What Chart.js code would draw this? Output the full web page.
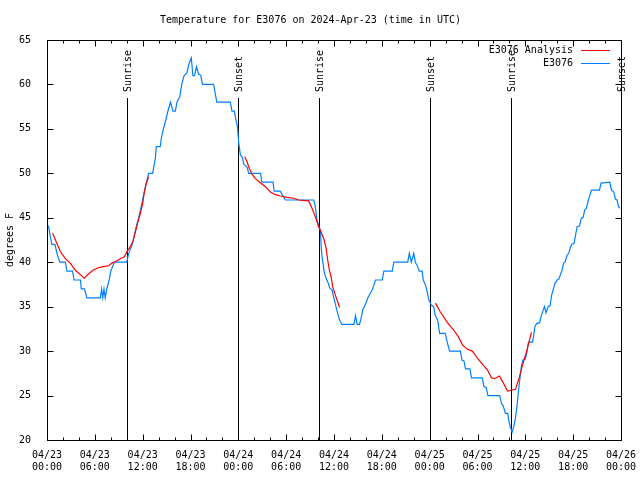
<!DOCTYPE html>
<html>
<head>
<title>Temperature for E3076</title>
<script src="https://cdn.jsdelivr.net/npm/chart.js@4.4.0/dist/chart.umd.min.js"></script>
<style>
    body { margin: 0; background: #ffffff; }
    canvas { display: block; }
</style>
</head>
<body>
<canvas id="tempChart" width="640" height="480"></canvas>
<script>
// hours since 04/23 00:00 UTC
var obsHours = [0.05, 0.2, 0.4, 0.6, 1.0, 1.25, 1.6, 2.3, 2.5, 3.2, 3.4, 4.2, 4.3, 4.7, 5.0, 6.7, 6.85, 7.0, 7.15, 7.3,
    7.5, 7.8, 8.0, 8.45, 10.0, 10.25, 10.7, 10.95, 11.2, 11.5, 11.9, 12.1, 12.45, 12.75, 13.25, 13.45, 13.6, 13.7, 14.2, 14.35,
    14.6, 14.9, 15.25, 15.5, 15.8, 16.1, 16.3, 16.65, 16.9, 17.2, 17.55, 17.8, 18.1, 18.3, 18.5, 18.75, 19.0, 19.3, 19.5, 20.9,
    21.1, 21.3, 23.0, 23.2, 23.5, 23.7, 23.9, 24.05, 24.25, 24.5, 24.7, 25.1, 25.3, 26.8, 26.95, 28.35, 28.5, 29.25, 29.5, 29.9,
    33.45, 33.65, 33.85, 34.1, 34.3, 34.4, 34.5, 34.65, 34.8, 35.1, 35.3, 35.45, 35.75, 35.95, 36.2, 36.5, 36.7, 37.0, 38.5, 38.7,
    38.9, 39.2, 39.4, 39.6, 39.8, 40.1, 40.25, 40.6, 40.8, 41.0, 41.2, 42.05, 42.25, 43.3, 43.5, 45.25, 45.45, 45.7, 46.0, 46.2,
    46.4, 46.7, 47.05, 47.2, 47.5, 47.7, 47.9, 48.2, 48.5, 48.7, 49.0, 49.25, 49.95, 50.2, 50.5, 51.85, 52.05, 52.3, 52.5, 53.05,
    53.25, 54.6, 54.8, 55.1, 55.3, 56.8, 57.0, 57.2, 57.5, 57.8, 57.9, 58.1, 58.35, 58.55, 58.75, 58.95, 59.1, 59.3, 59.5, 59.7,
    60.0, 60.2, 60.4, 60.9, 61.05, 61.2, 61.4, 61.8, 62.0, 62.4, 62.6, 62.85, 63.1, 63.3, 63.5, 63.7, 64.0, 64.2, 64.6, 64.8,
    65.0, 65.25, 65.45, 65.65, 65.85, 66.1, 66.3, 66.5, 66.8, 67.0, 67.25, 67.45, 67.65, 67.85, 68.05, 68.3, 69.3, 69.5, 70.6, 70.8,
    71.1, 71.3, 71.5, 71.7, 71.85];
var obsTemp = [44.2, 44, 43, 42, 42, 41, 40, 40, 39, 39, 38, 38, 37, 37, 36, 36, 37, 36, 37, 36,
    37, 38, 39, 40, 40, 41, 42, 43, 44, 45, 46.6, 47.5, 48.9, 50, 50, 51, 51.7, 53, 53, 54,
    55, 56, 57.3, 58, 57, 57, 58, 58.6, 60, 61, 61.3, 62.3, 63, 61, 61, 62, 61.2, 61, 60, 60,
    59, 58, 58, 57, 57, 56, 55.2, 53.4, 52.1, 51.8, 51, 50.7, 50, 50, 49, 49, 48, 48, 47.6, 47,
    47, 46.3, 44.8, 44, 43.6, 41.6, 40.6, 39.7, 38.75, 38, 37.6, 37.1, 36.9, 36.1, 35.2, 34.1, 33.5, 33, 33, 34,
    33, 33, 33.7, 34.6, 35, 35.6, 36, 36.6, 36.9, 37.4, 38, 38, 39, 39, 40, 40, 41, 40, 41, 40,
    39.7, 39, 39, 38, 37.4, 36.6, 35.75, 35.2, 35, 34, 33.5, 32, 32, 31, 30, 30, 29, 28.9, 28, 28,
    27, 27, 26, 25.9, 25, 25, 24.1, 23.9, 23, 23, 22.25, 21.5, 20.9, 21.5, 22.4, 23.75, 25.2, 26.75, 28.25, 29,
    29.1, 29.9, 31, 31, 31.8, 32.75, 33.1, 33.2, 34, 35, 34.3, 35, 35.1, 36.3, 36.9, 37.6, 38, 38.1, 39.1, 39.9,
    40.05, 40.8, 41, 41.7, 42.05, 42.1, 43.05, 44, 44.1, 44.9, 45.05, 45.9, 46.05, 46.8, 47.4, 48.1, 48.1, 48.9, 49, 48.1,
    47.9, 47.1, 47, 46.25, 46.05];

// analysis (null = no analysis)
var anaHours = [0.7, 1.25, 1.67, 2.3, 2.92, 3.55, 4.18, 4.68, 5.22, 5.77, 6.47, 7.1, 7.73, 8.16, 8.57, 9.2, 9.7, 10.11, 10.45, 10.79,
    11.08, 11.37, 11.71, 12.0, 12.21, 12.46, 12.75, 18.0,
    24.79, 25.09, 25.38, 25.72, 26.14, 26.76, 27.39, 28.02, 28.65, 29.27, 30.11, 30.94, 31.57, 32.82, 33.25, 33.66, 34.08, 34.38, 34.7, 35.01,
    35.21, 35.42, 35.63, 35.83, 36.17, 36.46, 36.71, 42.0,
    48.72, 49.35, 50.23, 50.98, 51.61, 52.11, 52.74, 53.36, 53.99, 54.74, 55.24, 55.75, 56.13, 56.75, 57.13, 57.76, 58.26, 58.76, 59.26, 59.64,
    60.14, 60.77];
var anaTemp = [43.25, 42.1, 41.2, 40.4, 39.9, 39.1, 38.6, 38.2, 38.7, 39.1, 39.4, 39.5, 39.6, 39.9, 40.05, 40.4, 40.6, 41.3, 41.75, 42.4,
    43.4, 44.4, 45.5, 46.6, 47.9, 48.9, 49.6, null,
    51.9, 51.3, 50.55, 49.9, 49.4, 48.95, 48.5, 47.9, 47.6, 47.45, 47.3, 47.2, 47.0, 46.9, 46.05, 45.1, 44, 43.4, 42.7, 41.6,
    40.25, 39.1, 38.4, 37.25, 36.3, 35.56, 34.9, null,
    35.4, 34.4, 33.2, 32.4, 31.6, 30.7, 30.2, 30.0, 29.2, 28.4, 27.9, 27.0, 26.9, 27.2, 26.6, 25.5, 25.6, 25.7, 27.1, 28.4,
    29.9, 32.1];

var sunHours = [10.08, 23.92, 34.17, 48.0, 58.22, 71.95];
var sunLabels = ['Sunrise', 'Sunset', 'Sunrise', 'Sunset', 'Sunrise', 'Sunset'];

var FONT = '10px "DejaVu Sans Mono", "Liberation Mono", monospace';

function pts(xs, ys) {
    return xs.map(function (h, i) { return { x: h, y: ys[i] }; });
}

function pad2(n) { return (n < 10 ? '0' : '') + n; }

var gnuFrame = {
    id: 'gnuFrame',
    beforeDatasetsDraw: function (chart) {
        var ctx = chart.ctx, a = chart.chartArea, xs = chart.scales.x;
        ctx.save();
        ctx.strokeStyle = '#000';
        ctx.lineWidth = 1;
        ctx.fillStyle = '#000';
        ctx.font = FONT;
        for (var i = 0; i < sunHours.length; i++) {
            var px = Math.round(xs.getPixelForValue(sunHours[i])) + 0.5;
            ctx.beginPath();
            ctx.moveTo(px, a.bottom);
            ctx.lineTo(px, a.top + 58);
            ctx.stroke();
            ctx.save();
            ctx.translate(px + 1, a.top + 52);
            ctx.rotate(-Math.PI / 2);
            ctx.textAlign = 'left';
            ctx.textBaseline = 'middle';
            ctx.fillText(sunLabels[i], 0, 0);
            ctx.restore();
        }
        ctx.restore();
    },
    afterDraw: function (chart) {
        var ctx = chart.ctx, a = chart.chartArea, xs = chart.scales.x, ys = chart.scales.y;
        var L = Math.round(a.left) + 0.5, R = Math.round(a.right) + 0.5;
        var T = Math.round(a.top) + 0.5, B = Math.round(a.bottom) + 0.5;
        ctx.save();
        ctx.strokeStyle = '#000';
        ctx.lineWidth = 1;
        ctx.beginPath();
        // y ticks, inward and mirrored
        ys.ticks.forEach(function (t) {
            var py = Math.round(ys.getPixelForValue(t.value)) + 0.5;
            ctx.moveTo(L, py); ctx.lineTo(L + 6, py);
            ctx.moveTo(R, py); ctx.lineTo(R - 6, py);
        });
        // x ticks: major 6h, minor 2h
        for (var h = xs.min; h <= xs.max; h += 2) {
            var px = Math.round(xs.getPixelForValue(h)) + 0.5;
            var len = (h % 6 === 0) ? 6 : 3;
            ctx.moveTo(px, B); ctx.lineTo(px, B - len);
            ctx.moveTo(px, T); ctx.lineTo(px, T + len);
        }
        ctx.stroke();
        ctx.strokeRect(L, T, R - L, B - T);

        // key
        ctx.font = FONT;
        ctx.fillStyle = '#000';
        ctx.textAlign = 'right';
        ctx.textBaseline = 'middle';
        chart.data.datasets.forEach(function (ds, i) {
            var ky = Math.round(a.top + 10 + i * 13) + 0.5;
            ctx.fillText(ds.label, a.right - 48, ky);
            ctx.strokeStyle = ds.borderColor;
            ctx.beginPath();
            ctx.moveTo(a.right - 40, ky);
            ctx.lineTo(a.right - 11, ky);
            ctx.stroke();
        });
        ctx.restore();
    }
};

document.addEventListener('DOMContentLoaded', function () {
    Chart.defaults.font.family = '"DejaVu Sans Mono", "Liberation Mono", monospace';
    Chart.defaults.font.size = 10;
    Chart.defaults.color = '#000';

    var ctx = document.getElementById('tempChart').getContext('2d');
    new Chart(ctx, {
        type: 'line',
        data: {
            datasets: [{
                label: 'E3076 Analysis',
                data: pts(anaHours, anaTemp),
                borderColor: '#ff0000',
                borderWidth: 1.2,
                pointRadius: 0,
                tension: 0,
                spanGaps: false
            }, {
                label: 'E3076',
                data: pts(obsHours, obsTemp),
                borderColor: '#0080ff',
                borderWidth: 1.2,
                pointRadius: 0,
                tension: 0
            }]
        },
        options: {
            responsive: false,
            animation: false,
            events: [],
            layout: { padding: { top: 0, right: 19, bottom: 0, left: 0 } },
            plugins: {
                legend: { display: false },
                tooltip: { enabled: false },
                title: {
                    display: true,
                    text: 'Temperature for E3076 on 2024-Apr-23 (time in UTC)',
                    font: { size: 10, weight: 'normal', lineHeight: 1.2 },
                    padding: { top: 14, bottom: 14 }
                }
            },
            scales: {
                x: {
                    type: 'linear',
                    min: 0,
                    max: 72,
                    grid: { display: false },
                    border: { display: false },
                    afterFit: function (s) { s.height = 40; },
                    ticks: {
                        stepSize: 6,
                        autoSkip: false,
                        maxRotation: 0,
                        padding: 1,
                        font: { lineHeight: 1.25 },
                        callback: function (v) {
                            var day = 23 + Math.floor(v / 24);
                            return ['04/' + day, pad2(v % 24) + ':00'];
                        }
                    }
                },
                y: {
                    min: 20,
                    max: 65,
                    grid: { display: false },
                    border: { display: false },
                    afterFit: function (s) { s.width = 47; },
                    ticks: { stepSize: 5, padding: 8 },
                    title: { display: true, text: 'degrees F', padding: { top: 4, bottom: 0 } }
                }
            }
        },
        plugins: [gnuFrame]
    });
});
</script>
</body>
</html>
